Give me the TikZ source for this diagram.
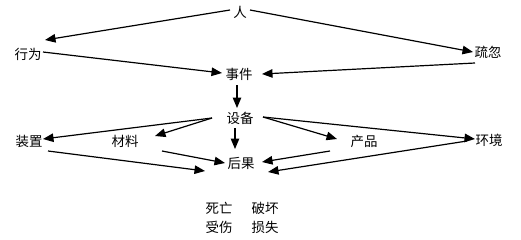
\documentclass[tikz,border=0pt]{standalone}
\usepackage{fontspec}
\newfontfamily\cjk{Noto Sans CJK SC}
\usetikzlibrary{arrows.meta}
\begin{document}
\begin{tikzpicture}[x=1bp,y=-1bp,
  lbl/.style={inner sep=0pt,font=\cjk\fontsize{13.5}{15}\selectfont},
  arr/.style={line width=1.2bp,-{Triangle[length=10.5bp,width=8.5bp]}}]
\useasboundingbox (0,0) rectangle (521,239);
\node[lbl] (ren) at (240,12) {人};
\node[lbl] (xw) at (28,54) {行为};
\node[lbl] (sh) at (488,52) {疏忽};
\node[lbl] (sj) at (239,74) {事件};
\node[lbl] (sb) at (240,118) {设备};
\node[lbl] (zz) at (29,141) {装置};
\node[lbl] (cl) at (125,141) {材料};
\node[lbl] (cp) at (364,141) {产品};
\node[lbl] (hj) at (489,140) {环境};
\node[lbl] (hg) at (241,163) {后果};
\node[lbl] (sw) at (219,208) {死亡};
\node[lbl] (ps) at (265,208) {破坏};
\node[lbl] (ss) at (219,227) {受伤};
\node[lbl] (sx) at (265,227) {损失};
% arrows
\draw[arr] ([shift={(-10,-2)}]ren.center) -- ([shift={(17,-14)}]xw.center);
\draw[arr] ([shift={(10,-2)}]ren.center) -- ([shift={(-15,0)}]sh.center);
\draw[arr] ([shift={(15,-2)}]xw.center) -- ([shift={(-17,-1)}]sj.center);
\draw[arr] ([shift={(-13,11)}]sh.center) -- ([shift={(23,0)}]sj.center);
\draw[arr] ([shift={(-2,11)}]sj.center) -- ([shift={(-3,-10)}]sb.center);
\draw[arr] ([shift={(-28,0)}]sb.center) -- ([shift={(14,-2)}]zz.center);
\draw[arr] ([shift={(-28,0)}]sb.center) -- ([shift={(30,-5)}]cl.center);
\draw[arr] ([shift={(-5,10)}]sb.center) -- ([shift={(-6,-14)}]hg.center);
\draw[arr] ([shift={(37,10)}]cl.center) -- ([shift={(-16,0)}]hg.center);
\draw[arr] ([shift={(19,10)}]zz.center) -- ([shift={(-36,8)}]hg.center);
\draw[arr] ([shift={(23,-1)}]sb.center) -- ([shift={(-27,-2)}]cp.center);
\draw[arr] ([shift={(23,-1)}]sb.center) -- ([shift={(-14,-1)}]hj.center);
\draw[arr] ([shift={(-34,10)}]cp.center) -- ([shift={(21,-1)}]hg.center);
\draw[arr] ([shift={(-22,1)}]hj.center) -- ([shift={(27,9)}]hg.center);
\end{tikzpicture}
\end{document}
